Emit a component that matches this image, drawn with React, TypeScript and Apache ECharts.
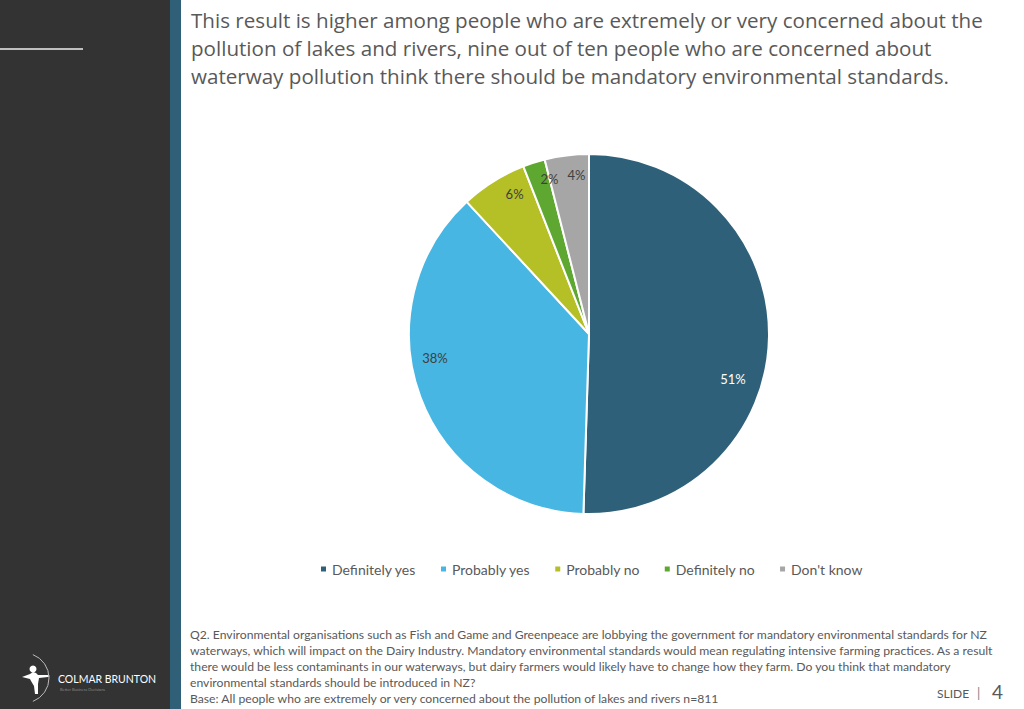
import React, { useEffect, useRef } from "react";
import * as echarts from "echarts";

const categories = ["Definitely yes", "Probably yes", "Probably no", "Definitely no", "Don't know"];
const values = [51, 38, 6, 2, 4];
const colors = ["#2E6179", "#47B6E2", "#B5BF26", "#5EA832", "#A6A6A6"];
const labelColors = ["#FFFFFF", "#404040", "#404040", "#404040", "#404040"];
const labelOffsets: [number, number][] = [[51, 44], [-67, -9], [-25, -61], [-11, -66], [-1, -67]];

const titleLines = [
  "This result is higher among people who are extremely or very concerned about the",
  "pollution of lakes and rivers, nine out of ten people who are concerned about",
  "waterway pollution think there should be mandatory environmental standards.",
];
const footLines = [
  "Q2. Environmental organisations such as Fish and Game and Greenpeace are lobbying the government for mandatory environmental standards for NZ",
  "waterways, which will impact on the Dairy Industry. Mandatory environmental standards would mean regulating intensive farming practices. As a result",
  "there would be less contaminants in our waterways, but dairy farmers would likely have to change how they farm. Do you think that mandatory",
  "environmental standards should be introduced in NZ?",
  "Base: All people who are extremely or very concerned about the pollution of lakes and rivers n=811",
];

const archerPath =
  "M0,9 L8,6 L11,4 L14,5 L16,7 L26,7 L28,8 L26,9 L17,10 L16,16 L16,26 L13,26 L12,18 L9,13 L8,11 Z";
echarts.graphic.registerShape("archer", echarts.graphic.extendPath(archerPath, {}) as any);

export default function App() {
  const ref = useRef<HTMLDivElement>(null);
  useEffect(() => {
    const chart = echarts.init(ref.current!, null, { renderer: "svg" });
    const font = "Lato, 'Open Sans', sans-serif";
    chart.setOption({
      animation: false,
      backgroundColor: "#FFFFFF",
      legend: {
        data: categories,
        left: 314,
        top: 557,
        icon: "rect",
        itemWidth: 7,
        itemHeight: 7,
        itemGap: 23,
        textStyle: { fontFamily: font, fontSize: 14, color: "#595959" },
      },
      graphic: [
        { type: "rect", z: -10, shape: { x: 0, y: 0, width: 170, height: 709 }, style: { fill: "#333333" } },
        { type: "rect", z: -10, shape: { x: 170, y: 0, width: 11, height: 709 }, style: { fill: "#2F6077" } },
        { type: "line", shape: { x1: 0, y1: 49, x2: 83, y2: 49 }, style: { stroke: "#BFBFBF", lineWidth: 2 } },
        {
          type: "text",
          left: 191,
          top: 6,
          style: {
            text: titleLines.join("\n"),
            fontFamily: "'Open Sans', sans-serif",
            fontSize: 20.6,
            lineHeight: 28,
            fill: "#595959",
          },
        },
        {
          type: "text",
          left: 190,
          top: 626,
          style: {
            text: footLines.join("\n"),
            fontFamily: font,
            fontSize: 12.2,
            lineHeight: 16.2,
            fill: "#595959",
          },
        },
        {
          type: "text",
          left: 937,
          top: 687,
          style: { text: "SLIDE", fontFamily: font, fontSize: 12, fill: "#595959" },
        },
        {
          type: "text",
          left: 977,
          top: 686,
          style: { text: "|", fontFamily: font, fontSize: 13, fill: "#7F7F7F" },
        },
        {
          type: "text",
          left: 992,
          top: 682,
          style: { text: "4", fontFamily: font, fontSize: 19, fill: "#595959" },
        },
        {
          type: "archer",
          x: 22,
          y: 668,
          scaleX: 1,
          scaleY: 1,
          style: { fill: "#FFFFFF" },
        },
        { type: "circle", shape: { cx: 33, cy: 669, r: 3.5 }, style: { fill: "#FFFFFF" } },
        {
          type: "arc",
          shape: { cx: 24, cy: 678, r: 25, startAngle: -Math.PI / 2.6, endAngle: Math.PI / 2.6 },
          style: { stroke: "#BBBBBB", lineWidth: 1, fill: "none" },
        },
        {
          type: "text",
          left: 58,
          top: 673,
          style: { text: "COLMAR BRUNTON", fontFamily: font, fontSize: 10.5, fill: "#FFFFFF" },
        },
        {
          type: "text",
          left: 60,
          top: 687,
          style: { text: "Better Business Decisions", fontFamily: font, fontSize: 4, fill: "#888888" },
        },
      ],
      series: [
        {
          type: "pie",
          center: [589, 334],
          radius: [0, 180],
          startAngle: 90,
          clockwise: true,
          silent: true,
          avoidLabelOverlap: false,
          itemStyle: { borderColor: "#FFFFFF", borderWidth: 2 },
          labelLine: { show: false },
          data: categories.map((name, i) => ({
            name,
            value: values[i],
            itemStyle: { color: colors[i] },
            label: {
              show: true,
              position: "inside",
              formatter: "{c}%",
              color: labelColors[i],
              fontFamily: font,
              fontSize: 13,
              offset: labelOffsets[i],
            },
          })),
        },
      ],
    });
    return () => chart.dispose();
  }, []);
  return <div ref={ref} style={{ position: "fixed", left: 0, top: 0, width: 1024, height: 709 }} />;
}
